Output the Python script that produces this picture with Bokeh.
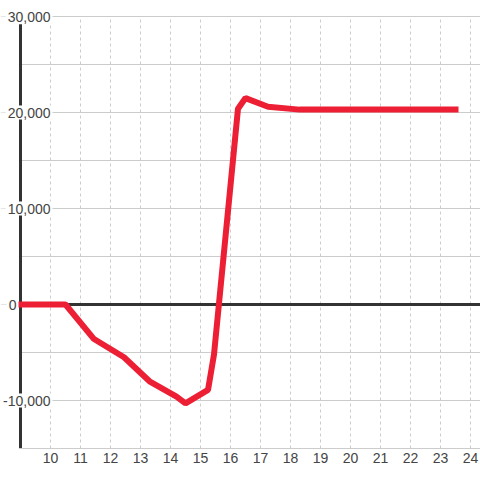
from bokeh.plotting import figure
from bokeh.models import Range1d, FixedTicker, Label
from bokeh.embed import file_html
from bokeh.resources import INLINE

# data
xs = [9.0, 10.5, 11.45, 12.45, 13.3, 14.2, 14.5, 15.25, 15.45, 16.25, 16.5, 17.25, 18.3, 23.5]
ys = [0, 0, -3600, -5500, -8000, -9600, -10300, -8900, -5200, 20400, 21500, 20600, 20300, 20300]

x_ticks = [10, 11, 12, 13, 14, 15, 16, 17, 18, 19, 20, 21, 22, 23, 24]
y_grid = [-10000, -5000, 5000, 10000, 15000, 20000, 25000, 30000]
y_label_vals = [-10000, 0, 10000, 20000, 30000]
y_label_text = ["-10,000", "0", "10,000", "20,000", "30,000"]

FONT = "Liberation Sans"
TXT = "#444444"
RED = "#ec1f35"
AX = "#333333"
GRID = "#cccccc"

X0 = 9
Y0, Y1 = -15000, 30000
PX_X = 30.0               # pixels per x unit
PX_Y = 96.0 / 10000       # pixels per y unit

p = figure(width=480, height=480, output_backend="svg", toolbar_location=None,
           x_range=Range1d(X0 - 20 / PX_X, X0 + 460 / PX_X),
           y_range=Range1d(Y0, Y1 + 16 / PX_Y),
           y_axis_location=None, min_border=0)
p.min_border_left = 0
p.min_border_top = 0
p.min_border_right = 0
p.min_border_bottom = 32
p.outline_line_color = None
p.background_fill_color = "white"
p.border_fill_color = "white"
p.xgrid.visible = False

# x axis
xa = p.xaxis[0]
xa.ticker = FixedTicker(ticks=x_ticks)
xa.bounds = (X0, X0 + 460 / PX_X)
xa.major_tick_out = 0
xa.major_tick_in = 0
xa.minor_tick_out = 0
xa.minor_tick_in = 0
xa.axis_line_color = GRID
xa.major_label_text_font = FONT
xa.major_label_text_font_size = "14px"
xa.major_label_text_color = TXT
xa.major_label_standoff = 4

xend = p.x_range.end
# vertical dashed grid lines
p.segment(x0=x_ticks, x1=x_ticks, y0=[Y0] * len(x_ticks), y1=[Y1] * len(x_ticks),
          line_color=GRID, line_width=1, line_dash="3 3")
# horizontal grid lines
p.segment(x0=[X0] * len(y_grid), x1=[xend] * len(y_grid), y0=y_grid, y1=y_grid,
          line_color=GRID, line_width=1)
# zero line
p.segment(x0=[X0], x1=[xend], y0=[0], y1=[0], line_color=AX, line_width=3)
# y axis line
p.segment(x0=[X0], x1=[X0], y0=[Y0], y1=[29200], line_color=AX, line_width=3)

# data line
p.line(xs, ys, line_color=RED, line_width=6, line_cap="square")

for v, t in zip(y_label_vals, y_label_text):
    off = -2 if v == 0 else 32
    p.add_layout(Label(x=X0, y=v, x_offset=off, text=t, text_align="right", text_baseline="middle",
                       text_font=FONT, text_font_size="14px", text_color=TXT,
                       background_fill_color="white", padding=2))

open("out.html", "w").write(file_html(p, INLINE))
